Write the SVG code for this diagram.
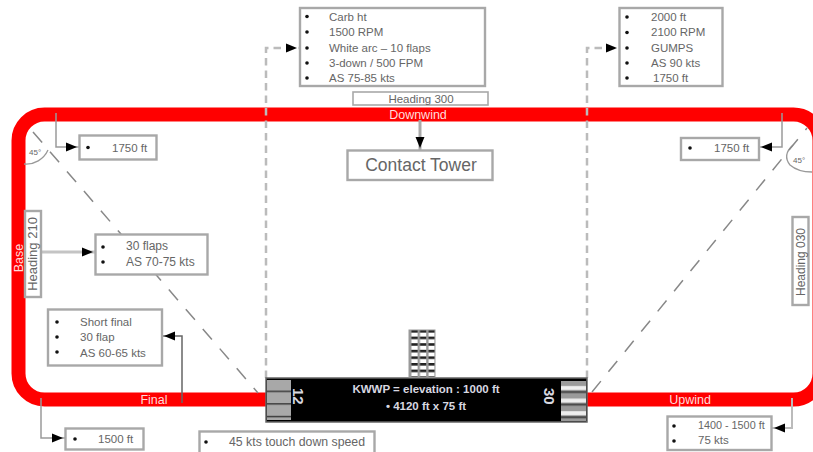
<svg xmlns="http://www.w3.org/2000/svg" width="813" height="452" viewBox="0 0 813 452">
<style>
text{font-family:"Liberation Sans",Arial,sans-serif;font-size:11.500px;fill:#666}
.box{fill:#fff;stroke:#a8a8a8;stroke-width:2.400}
.diag{fill:none;stroke:#888;stroke-width:1.500;stroke-dasharray:14 12}
.dash{fill:none;stroke:#bbb;stroke-width:2.500;stroke-dasharray:7.500 5}
.con{fill:none;stroke:#9a9a9a;stroke-width:1.500}
.lab{fill:#ffdcdc;font-size:12.500px;text-anchor:middle}
.dot{fill:#111}
.w{fill:#d8d8e0;font-size:11.500px;font-weight:bold}
</style>
<defs>
<marker id="arr" viewBox="0 0 13 10" refX="13" refY="5" markerWidth="13" markerHeight="10" markerUnits="userSpaceOnUse" orient="auto"><path d="M0 0.500L11 5L0 9.500Z" fill="#000"/></marker>
<pattern id="stripeL" width="10" height="12.600" patternUnits="userSpaceOnUse" y="378"><rect width="10" height="12.600" fill="#a8a8a8"/><rect width="10" height="1.400" fill="#333"/></pattern>
<pattern id="stripeR" width="10" height="12.600" patternUnits="userSpaceOnUse" y="381"><rect width="10" height="12.600" fill="#9a9a9a"/><rect y="5" width="10" height="4" fill="#eee"/><rect y="10" width="10" height="2" fill="#444"/></pattern>
<pattern id="grid" width="8.600" height="6.600" patternUnits="userSpaceOnUse" x="409" y="330"><rect width="8.600" height="6.600" fill="#fff"/><rect width="8.600" height="2.600" fill="#222"/><rect width="2.400" height="6.600" fill="#999"/></pattern>
</defs>
<g id="pattern"><rect x="18.500" y="114.500" width="801" height="285" rx="26" ry="26" fill="none" stroke="#f00" stroke-width="14"/></g>
<g id="angles" fill="none" stroke="#999" stroke-width="1.300">
<path d="M48 150A24 24 0 0 1 24 164"/><path d="M793 145Q782 155 790 165Q798 172 812 172"/>
<text x="29" y="155" style="font-size:8px" stroke="none">45°</text><text x="793" y="163" style="font-size:8px" stroke="none">45°</text>
</g>
<g id="connectors">
<path class="diag" d="M33 132L258 393"/><path class="diag" d="M592 392L807 128"/>
<path class="dash" d="M266 378V48H299" marker-end="url(#arr)"/>
<path class="dash" d="M587 378V48H619" marker-end="url(#arr)"/>
<path class="con" d="M56 113V147H79" marker-end="url(#arr)"/>
<path class="con" d="M782 113V147H759" marker-end="url(#arr)"/>
<path class="con" d="M41 252H95" style="stroke:#c4c4c4;stroke-width:3" marker-end="url(#arr)"/>
<path class="con" d="M182 403V336H162" style="stroke:#666" marker-end="url(#arr)"/>
<path class="con" d="M41 398V438H65" marker-end="url(#arr)"/>
<path class="con" d="M792 398V428H772" style="stroke:#bbb;stroke-width:2" marker-end="url(#arr)"/>
<path class="con" d="M420 120V150" style="stroke:#aaa;stroke-width:3" marker-end="url(#arr)"/>
</g>
<g id="labels"><text class="lab" x="418" y="119">Downwind</text><text class="lab" x="154" y="404">Final</text><text class="lab" x="690" y="404">Upwind</text><text class="lab" transform="translate(23 258) rotate(-90)">Base</text></g>
<g id="n-pre"><rect class="box" x="300" y="8" width="185" height="78"/><g class="dot"><circle cx="307" cy="16.500" r="1.800"/><circle cx="307" cy="32" r="1.800"/><circle cx="307" cy="48" r="1.800"/><circle cx="307" cy="63" r="1.800"/><circle cx="307" cy="78" r="1.800"/></g>
<text x="329" y="21">Carb ht</text><text x="329" y="36">1500 RPM</text><text x="329" y="52">White arc – 10 flaps</text><text x="329" y="67">3-down / 500 FPM</text><text x="329" y="82">AS 75-85 kts</text></g>
<g id="n-heading-top"><rect class="box" x="353" y="92" width="135" height="13" style="stroke-width:1.600"/><text x="421" y="102.500" text-anchor="middle">Heading 300</text></g>
<g id="n-tower"><rect class="box" x="347.500" y="150.500" width="145" height="29.500"/><text x="421" y="171" text-anchor="middle" style="font-size:17.500px">Contact Tower</text></g>
<g id="n-climb"><rect class="box" x="619.500" y="8" width="103" height="78"/><g class="dot"><circle cx="627" cy="17" r="1.800"/><circle cx="627" cy="32.500" r="1.800"/><circle cx="627" cy="48" r="1.800"/><circle cx="627" cy="63" r="1.800"/><circle cx="627" cy="78" r="1.800"/></g>
<text x="651" y="21">2000 ft</text><text x="651" y="36">2100 RPM</text><text x="651" y="52">GUMPS</text><text x="651" y="67">AS 90 kts</text><text x="653" y="82">1750 ft</text></g>
<g id="n-1750r"><rect class="box" x="681" y="138" width="78" height="22"/><circle class="dot" cx="690" cy="148" r="1.800"/><text x="714" y="152">1750 ft</text></g>
<g id="n-1750l"><rect class="box" x="79.500" y="135.500" width="77" height="24"/><circle class="dot" cx="88" cy="147.500" r="1.800"/><text x="112" y="151.500">1750 ft</text></g>
<g id="n-hdg-l"><rect class="box" x="25" y="211" width="16" height="86"/><text transform="translate(37 254) rotate(-90)" text-anchor="middle" style="font-size:13px">Heading 210</text></g>
<g id="n-hdg-r"><rect class="box" x="792.500" y="217" width="16" height="88"/><text transform="translate(804.500 262) rotate(-90)" text-anchor="middle" style="font-size:12px">Heading 030</text></g>
<g id="n-flaps"><rect class="box" x="95.500" y="234.500" width="112" height="40"/><circle class="dot" cx="103" cy="247" r="1.800"/><circle class="dot" cx="103" cy="262" r="1.800"/><text x="126" y="250" style="font-size:12px">30 flaps</text><text x="126" y="266" style="font-size:12px">AS 70-75 kts</text></g>
<g id="n-short"><rect class="box" x="48" y="309.500" width="114" height="56"/><g class="dot"><circle cx="57" cy="322" r="1.800"/><circle cx="57" cy="337" r="1.800"/><circle cx="57" cy="352" r="1.800"/></g><text x="80" y="326">Short final</text><text x="80" y="341">30 flap</text><text x="80" y="357">AS 60-65 kts</text></g>
<g id="n-1500"><rect class="box" x="65.500" y="428.500" width="78" height="21"/><circle class="dot" cx="75" cy="439" r="1.800"/><text x="98" y="443">1500 ft</text></g>
<g id="n-touch"><rect class="box" x="199.500" y="431.500" width="175" height="22"/><circle class="dot" cx="206" cy="442" r="1.800"/><text x="229" y="446" style="font-size:12.300px">45 kts touch down speed</text></g>
<g id="n-1400"><rect class="box" x="667.500" y="416.500" width="104" height="33.500"/><circle class="dot" cx="674" cy="426" r="1.800"/><circle class="dot" cx="674" cy="441" r="1.800"/><text x="698" y="429" style="font-size:10.800px">1400 - 1500 ft</text><text x="698" y="444">75 kts</text></g>
<g id="n-runway"><rect x="266" y="378" width="321" height="44" fill="#000" stroke="#666" stroke-width="1.500"/><rect x="267" y="380" width="24" height="40" fill="url(#stripeL)"/><rect x="561" y="381" width="25" height="40" fill="url(#stripeR)"/>
<text class="w" transform="translate(293 388) rotate(90)" style="font-size:15px">12</text><text class="w" transform="translate(544 388) rotate(90)" style="font-size:15px">30</text>
<text class="w" x="426" y="393" text-anchor="middle">KWWP = elevation : 1000 ft</text><text class="w" x="426" y="410" text-anchor="middle">• 4120 ft x 75 ft</text></g>
<g id="n-windsock"><rect x="409" y="330" width="26" height="47" fill="url(#grid)" stroke="#999"/></g>
</svg>
